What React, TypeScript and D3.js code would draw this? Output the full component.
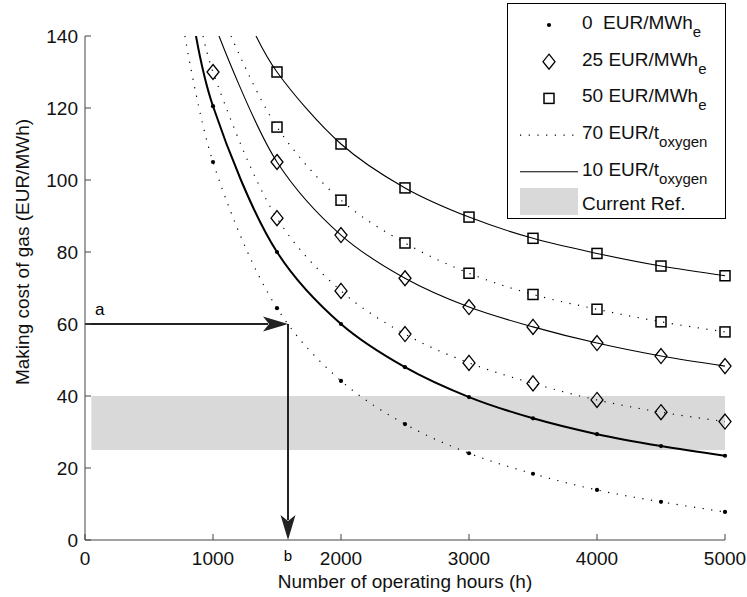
import * as d3 from "d3";

// operating hours where the markers sit
const hours = [1000, 1500, 2000, 2500, 3000, 3500, 4000, 4500, 5000];

// making cost of gas (EUR/MWh); null = above the axes
const cost0El10Ox = [120.5, 80, 60, 48, 39.7, 33.8, 29.4, 26.1, 23.4];
const cost0El70Ox = [105, 64.4, 44.2, 32.2, 24.1, 18.4, 13.9, 10.6, 7.8];
const cost25El10Ox = [null, 105, 84.7, 72.7, 64.7, 59.2, 54.7, 51.1, 48.3];
const cost25El70Ox = [130, 89.4, 69.2, 57.2, 49.2, 43.5, 38.9, 35.5, 32.9];
const cost50El10Ox = [null, 130, 110, 97.8, 89.7, 83.8, 79.6, 76.1, 73.4];
const cost50El70Ox = [null, 114.7, 94.4, 82.5, 74.1, 68.2, 64.1, 60.6, 57.8];

// hours where each curve comes in through the top of the axes
const topCrossing = [867, 781, 1047, 922, 1336, 1141];

const xTicks = [0, 1000, 2000, 3000, 4000, 5000];
const yTicks = [0, 20, 40, 60, 80, 100, 120, 140];

// reference band and the a -> b reading
const refBand = { from: 25, to: 40, start: 50, end: 5000 };
const reading = { hours: 1586, cost: 60 };

type Marker = "dot" | "diamond" | "square";
const series: { values: (number | null)[]; marker: Marker; dotted: boolean; width: number }[] = [
  { values: cost0El10Ox, marker: "dot", dotted: false, width: 2 },
  { values: cost0El70Ox, marker: "dot", dotted: true, width: 1.2 },
  { values: cost25El10Ox, marker: "diamond", dotted: false, width: 1.1 },
  { values: cost25El70Ox, marker: "diamond", dotted: true, width: 1.2 },
  { values: cost50El10Ox, marker: "square", dotted: false, width: 1.1 },
  { values: cost50El70Ox, marker: "square", dotted: true, width: 1.2 },
];

const W = 747;
const H = 597;
const FONT = "'Liberation Sans', Arial, Helvetica, sans-serif";
const AX = "#444";

const x = d3.scaleLinear().domain([0, 5000]).range([85, 725]);
const y = d3.scaleLinear().domain([0, 140]).range([540, 36]);

function drawMarker(kind: Marker, cx: number, cy: number, key: string) {
  if (kind === "dot") return <circle key={key} cx={cx} cy={cy} r={2.1} fill="#000" />;
  if (kind === "diamond")
    return (
      <path
        key={key}
        d={`M${cx},${cy - 7.5}L${cx + 6},${cy}L${cx},${cy + 7.5}L${cx - 6},${cy}Z`}
        fill="none"
        stroke="#000"
        strokeWidth={1.3}
      />
    );
  return (
    <rect key={key} x={cx - 5} y={cy - 5} width={10} height={10} fill="none" stroke="#000" strokeWidth={1.5} />
  );
}

const legendRows = [
  { kind: "dot", main: "0  EUR/MWh", sub: "e" },
  { kind: "diamond", main: "25 EUR/MWh", sub: "e" },
  { kind: "square", main: "50 EUR/MWh", sub: "e" },
  { kind: "dotted", main: "70 EUR/t", sub: "oxygen" },
  { kind: "solid", main: "10 EUR/t", sub: "oxygen" },
  { kind: "band", main: "Current Ref.", sub: "" },
];

export default function App() {
  const line = d3
    .line<[number, number]>()
    .x((d) => x(d[0]))
    .y((d) => y(d[1]))
    .curve(d3.curveCatmullRom.alpha(0.5));

  const ax = x(reading.hours);
  const ay = y(reading.cost);

  return (
    <svg
      width={W}
      height={H}
      style={{ position: "absolute", left: 0, top: 0, background: "#fff" }}
      fontFamily={FONT}
    >
      <defs>
        <clipPath id="plot">
          <rect x={x(0)} y={y(140)} width={x(5000) - x(0)} height={y(0) - y(140)} />
        </clipPath>
      </defs>

      {/* current reference band */}
      <rect
        x={x(refBand.start)}
        y={y(refBand.to)}
        width={x(refBand.end) - x(refBand.start)}
        height={y(refBand.from) - y(refBand.to)}
        fill="#d9d9d9"
      />

      {/* curves */}
      <g clipPath="url(#plot)">
        {series.map((s, i) => {
          const pts: [number, number][] = [[topCrossing[i], 140]];
          hours.forEach((h, j) => {
            const v = s.values[j];
            if (v != null) pts.push([h, v]);
          });
          return (
            <path
              key={i}
              d={line(pts) ?? ""}
              fill="none"
              stroke="#000"
              strokeWidth={s.width}
              strokeDasharray={s.dotted ? "1.2,7.5" : undefined}
            />
          );
        })}
      </g>

      {/* markers */}
      {series.map((s, i) =>
        hours.map((h, j) => {
          const v = s.values[j];
          if (v == null) return null;
          return drawMarker(s.marker, x(h), y(v), `${i}-${j}`);
        })
      )}

      {/* a -> b reading arrows */}
      <g stroke="#222" strokeWidth={2} fill="#222">
        <line x1={x(0)} y1={ay} x2={ax - 20} y2={ay} />
        <line x1={ax} y1={ay} x2={ax} y2={y(0) - 20} />
        <path d={`M${ax},${ay}L${ax - 25},${ay - 7.5}L${ax - 19},${ay}L${ax - 25},${ay + 7.5}Z`} stroke="none" />
        <path d={`M${ax},${y(0)}L${ax - 7.5},${y(0) - 25}L${ax},${y(0) - 19}L${ax + 7.5},${y(0) - 25}Z`} stroke="none" />
      </g>
      <text x={x(0) + 10} y={ay - 9} fontSize={17} fill="#000">
        a
      </text>
      <text x={ax} y={561} fontSize={15} textAnchor="middle" fill="#000">
        b
      </text>

      {/* axes */}
      <line x1={x(0)} y1={y(0)} x2={x(5000)} y2={y(0)} stroke={AX} strokeWidth={1} />
      <line x1={x(0)} y1={y(0)} x2={x(0)} y2={y(140)} stroke={AX} strokeWidth={1} />
      {xTicks.map((t) => (
        <g key={`xt${t}`}>
          <line x1={x(t)} x2={x(t)} y1={y(0)} y2={y(0) - 6} stroke={AX} />
          <text x={x(t)} y={565} fontSize={19} textAnchor="middle" fill="#111">
            {t}
          </text>
        </g>
      ))}
      {yTicks.map((t) => (
        <g key={`yt${t}`}>
          <line x1={x(0)} x2={x(0) + 6} y1={y(t)} y2={y(t)} stroke={AX} />
          <text x={78} y={y(t) + 7} fontSize={19} textAnchor="end" fill="#111">
            {t}
          </text>
        </g>
      ))}
      <text x={(x(0) + x(5000)) / 2} y={588} fontSize={19} textAnchor="middle" fill="#111">
        Number of operating hours (h)
      </text>
      <text
        transform={`translate(29,${252}) rotate(-90)`}
        fontSize={19}
        textAnchor="middle"
        fill="#111"
      >
        Making cost of gas (EUR/MWh)
      </text>

      {/* legend */}
      <rect x={507.5} y={3.5} width={218} height={215} fill="#fff" stroke="#000" strokeWidth={1} />
      {legendRows.map((r, i) => {
        const cy = 25 + i * 36.7;
        let sample;
        if (r.kind === "dotted")
          sample = <line x1={520} x2={578} y1={cy} y2={cy} stroke="#000" strokeWidth={1.2} strokeDasharray="1.2,7.5" />;
        else if (r.kind === "solid") sample = <line x1={520} x2={578} y1={cy} y2={cy} stroke="#000" strokeWidth={1.1} />;
        else if (r.kind === "band") sample = <rect x={520} y={188} width={58} height={27} fill="#d9d9d9" />;
        else sample = drawMarker(r.kind as Marker, 549, cy, `lg${i}`);
        return (
          <g key={`lg${i}`}>
            {sample}
            <text x={582} y={r.kind === "band" ? 210 : cy + 4} fontSize={19} fill="#111" style={{ whiteSpace: "pre" }}>
              {r.main}
              {r.sub && (
                <tspan fontSize={15} dy={8}>
                  {r.sub}
                </tspan>
              )}
            </text>
          </g>
        );
      })}
    </svg>
  );
}
